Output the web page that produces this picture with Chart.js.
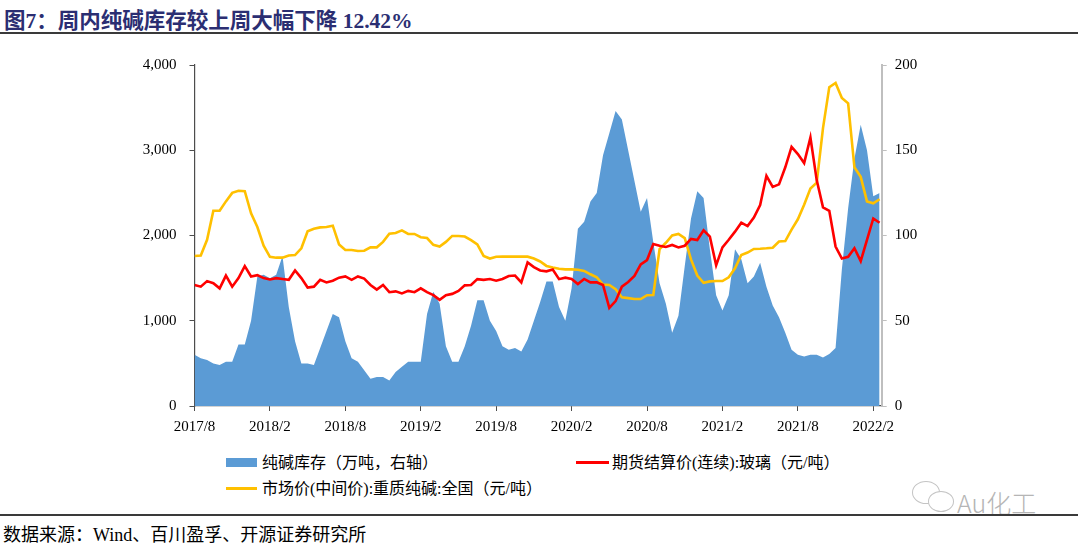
<!DOCTYPE html>
<html>
<head>
<meta charset="utf-8">
<script src="https://cdn.jsdelivr.net/npm/chart.js@4.4.1/dist/chart.umd.min.js"></script>
<style>
body{margin:0;width:1080px;height:548px;background:#fff;position:relative;overflow:hidden;
  font-family:"Liberation Serif","Noto Sans CJK SC",serif;color:#000;}
#title{position:absolute;left:4px;top:3px;font-size:21.5px;font-weight:bold;color:#2b2e72;white-space:nowrap;}
.rule{position:absolute;left:0;width:1078px;height:0;border-top:2px solid #3a3a3a;}
#chart{position:absolute;left:0;top:40px;}
.leg{position:absolute;font-size:16px;white-space:nowrap;line-height:18px;}
.swatch{position:absolute;}
#src{position:absolute;left:3px;top:520px;font-size:18px;white-space:nowrap;}
#wm{position:absolute;left:957px;top:484px;font-family:"Noto Sans CJK SC",sans-serif;font-size:25px;color:#b5b5b5;font-weight:300;}
.bub{position:absolute;border:1.5px solid #c4c4c4;border-radius:50%;background:#fff;}
</style>
</head>
<body>
<div id="title">图7：周内纯碱库存较上周大幅下降 12.42%</div>
<div class="rule" style="top:32px"></div>
<canvas id="chart" width="1080" height="400"></canvas>

<div class="swatch" style="left:226px;top:458px;width:31px;height:9px;background:#5b9bd5"></div>
<div class="leg" style="left:262px;top:454px">纯碱库存（万吨，右轴）</div>
<div class="swatch" style="left:576px;top:461px;width:33px;height:3px;background:#ff0000"></div>
<div class="leg" style="left:612px;top:454px">期货结算价(连续):玻璃（元/吨）</div>
<div class="swatch" style="left:226px;top:487px;width:31px;height:3px;background:#ffc000"></div>
<div class="leg" style="left:262px;top:480px">市场价(中间价):重质纯碱:全国（元/吨）</div>

<div class="bub" style="left:912px;top:481px;width:26px;height:21px"></div>
<div class="bub" style="left:928px;top:491px;width:24px;height:19px"></div>
<div id="wm">Au化工</div>
<div class="rule" style="top:514px"></div>
<div id="src">数据来源：Wind、百川盈孚、开源证券研究所</div>

<script>
// half-month steps from 2017/8 (month offset)
var months = [];
for (var i = 0; i < 110; i++) months.push(i / 2);

var tickMonths = [0, 6, 12, 18, 24, 30, 36, 42, 48, 54];
var tickLabels = ['2017/8', '2018/2', '2018/8', '2019/2', '2019/8', '2020/2', '2020/8', '2021/2', '2021/8', '2022/2'];

// 纯碱库存（万吨，右轴）
var inventory = [
  30, 28, 27, 25, 24, 26, 26, 36, 36, 50, 76, 77, 75, 77, 88, 58, 38, 25, 25, 24, 34, 44,
  54, 52, 38, 28, 26, 21, 16, 17, 17, 15, 20, 23, 26, 26, 26, 54, 67, 60, 35, 26, 26, 35,
  47, 62, 62, 50, 44, 35, 33, 34, 32, 39, 50, 61, 73, 73, 58, 50, 69, 104, 108, 120, 125, 147,
  160, 173, 168, 150, 132, 114, 122, 96, 72, 60, 43, 53, 82, 110, 126, 122, 92, 65, 56, 65, 92, 86,
  72, 76, 84, 70, 59, 52, 43, 33, 30, 29, 30, 30, 28.5, 30.5, 34, 80, 116, 145, 165, 150, 123, 125
];

// 期货结算价(连续):玻璃（元/吨）
var glassFutures = [
  1420, 1400, 1465, 1440, 1380, 1530, 1400, 1500, 1640, 1520, 1535, 1500, 1485, 1500, 1490, 1480, 1590, 1500, 1390, 1400, 1480, 1450,
  1470, 1505, 1520, 1480, 1520, 1495, 1420, 1365, 1420, 1335, 1345, 1320, 1350, 1335, 1380, 1335, 1300, 1245, 1300, 1315, 1350, 1415,
  1420, 1488, 1480, 1490, 1470, 1490, 1525, 1530, 1450, 1685, 1630, 1590, 1580, 1600, 1488, 1505, 1490, 1430, 1490, 1450, 1450, 1420,
  1150, 1230, 1400, 1455, 1525, 1660, 1712, 1900, 1880, 1865, 1889, 1860, 1880, 1960, 1947, 2060, 1986, 1650, 1860, 1950, 2045, 2150,
  2110, 2210, 2358, 2700, 2570, 2600, 2800, 3040, 2955, 2850, 3150, 2650, 2330, 2290, 1870, 1730, 1750, 1850, 1700, 1950, 2200, 2150
];

// 市场价(中间价):重质纯碱:全国（元/吨）
var sodaPrice = [
  1760, 1765, 1950, 2290, 2290, 2400, 2500, 2525, 2520, 2260, 2100, 1880, 1750, 1740, 1740, 1765, 1770, 1850, 2050, 2080, 2095, 2100,
  2115, 1895, 1830, 1830, 1818, 1822, 1861, 1861, 1925, 2020, 2030, 2060, 2018, 2018, 1980, 1970, 1890, 1870, 1925, 1995, 1995, 1988,
  1945, 1895, 1760, 1730, 1750, 1752, 1752, 1752, 1752, 1752, 1730, 1695, 1643, 1625, 1610, 1603, 1603, 1598, 1585, 1545, 1510, 1425,
  1419, 1370, 1275, 1265, 1255, 1255, 1300, 1302, 1840, 1915, 2000, 2018, 1970, 1720, 1530, 1445, 1462, 1466, 1466, 1510, 1615, 1771,
  1800, 1842, 1845, 1850, 1857, 1930, 1935, 2070, 2190, 2362, 2550, 2619, 3260, 3740, 3790, 3612, 3550, 2800, 2688, 2400, 2377, 2425
];

function pts(values) {
  return values.map(function (v, i) { return { x: months[i], y: v }; });
}

var tickFont = { family: '"Liberation Serif", serif', size: 15 };

new Chart(document.getElementById('chart'), {
  type: 'line',
  data: {
    datasets: [
      {
        label: '纯碱库存（万吨，右轴）',
        data: pts(inventory),
        yAxisID: 'y1',
        fill: 'origin',
        backgroundColor: '#5b9bd5',
        borderColor: 'rgba(0,0,0,0)',
        borderWidth: 0,
        pointRadius: 0,
        order: 10
      },
      {
        label: '期货结算价(连续):玻璃（元/吨）',
        data: pts(glassFutures),
        yAxisID: 'y',
        borderColor: '#ff0000',
        borderWidth: 2.6,
        pointRadius: 0,
        fill: false,
        order: 1
      },
      {
        label: '市场价(中间价):重质纯碱:全国（元/吨）',
        data: pts(sodaPrice),
        yAxisID: 'y',
        borderColor: '#ffc000',
        borderWidth: 2.6,
        pointRadius: 0,
        fill: false,
        order: 2
      }
    ]
  },
  options: {
    responsive: false,
    animation: false,
    layout: { padding: { top: 25, left: 0, right: 0, bottom: 0 } },
    plugins: { legend: { display: false }, tooltip: { enabled: false } },
    scales: {
      x: {
        type: 'linear',
        min: 0,
        max: 54.67,
        border: { color: '#4d4d4d', width: 1.2 },
        grid: { drawOnChartArea: false, tickLength: 5, color: '#4d4d4d' },
        afterBuildTicks: function (s) { s.ticks = tickMonths.map(function (v) { return { value: v }; }); },
        ticks: {
          autoSkip: false, maxRotation: 0, padding: 7, color: '#000', font: tickFont,
          callback: function (v, i) { return tickLabels[i]; }
        },
        afterFit: function (s) { s.height = 34; }
      },
      y: {
        position: 'left',
        min: 0,
        max: 4000,
        border: { color: '#4d4d4d', width: 1.2 },
        grid: { drawOnChartArea: false, tickLength: 5, color: '#4d4d4d' },
        ticks: {
          stepSize: 1000, padding: 13, color: '#000', font: tickFont,
          callback: function (v) { return v.toLocaleString('en-US'); }
        },
        afterFit: function (s) { s.width = 194.5; }
      },
      y1: {
        position: 'right',
        min: 0,
        max: 200,
        border: { color: '#bfbfbf', width: 2 },
        grid: { drawOnChartArea: false, tickLength: 5, color: '#bfbfbf' },
        ticks: { stepSize: 50, padding: 8, color: '#000', font: tickFont },
        afterFit: function (s) { s.width = 198.3; }
      }
    }
  }
});
</script>
</body>
</html>
